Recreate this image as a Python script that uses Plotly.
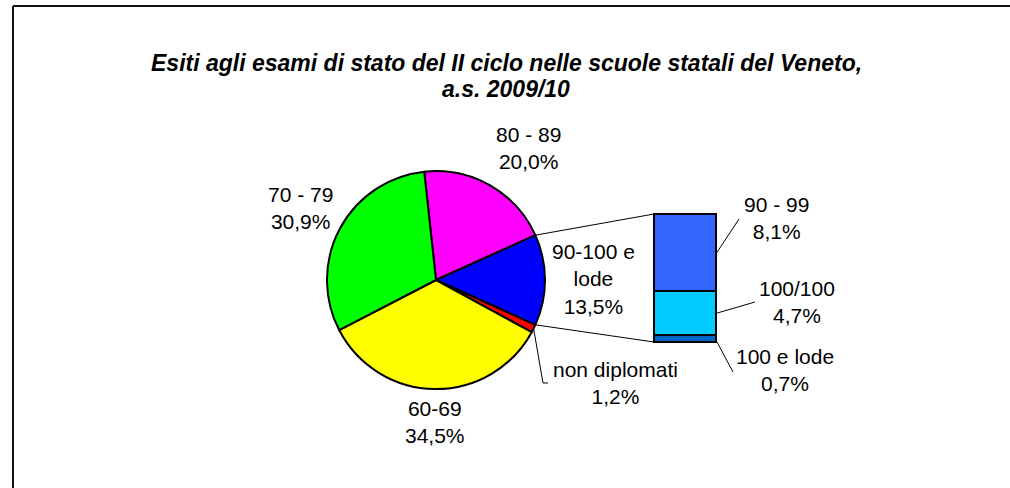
import plotly.graph_objects as go
import math

# ---- data ----
pie_labels = ["80 - 89", "90-100 e lode", "non diplomati", "60-69", "70 - 79"]
pie_values = [20.0, 13.5, 1.2, 34.5, 30.9]
pie_colors = ["#FF00FF", "#0000FF", "#FF0000", "#FFFF00", "#00FF00"]

bar_labels = ["100 e lode", "100/100", "90 - 99"]   # stacked bottom -> top
bar_values = [0.7, 4.7, 8.1]
bar_colors = ["#0066CC", "#00CCFF", "#3366FF"]

title_lines = ["Esiti agli esami di stato del II ciclo nelle scuole statali del Veneto,",
               "a.s. 2009/10"]

W, H = 1010, 488
FONT = "Liberation Sans, Arial, sans-serif"

def fmt(v):
    return f"{v:.1f}".replace(".", ",") + "%"

def px(x):
    return x / W

def py(y):
    return 1 - y / H

# ---- pie geometry (pixels) ----
cx, cy, r = 436, 280, 109
total = sum(pie_values)
other_idx = 1
# Excel pie-of-bar: the aggregated slice is centred at 3 o'clock
start = 90 - (sum(pie_values[:other_idx]) + pie_values[other_idx] / 2) / total * 360

def edge(angle_deg):
    a = math.radians(angle_deg)
    return cx + r * math.sin(a), cy - r * math.cos(a)

fig = go.Figure()
fig.add_trace(go.Pie(
    labels=pie_labels, values=pie_values, sort=False, direction="clockwise",
    rotation=start, textinfo="none", hoverinfo="label+percent",
    marker=dict(colors=pie_colors, line=dict(color="black", width=2)),
    domain=dict(x=[px(cx - r), px(cx + r)], y=[py(cy + r), py(cy - r)]),
    showlegend=False,
))

# ---- bar geometry ----
bx0, bx1 = 654, 716          # pixel edges of the bar (x = -0.5 .. 0.5)
by_top, by_bot = 214, 342    # pixel for y = sum .. 0
bar_total = sum(bar_values)
xr = [-0.6, 0.6]
yr = [-0.5, bar_total + 0.5]
ppx = (bx1 - bx0) / 1.0
ppy = (by_bot - by_top) / bar_total
dom_x = [px(bx0 + (xr[0] + 0.5) * ppx), px(bx0 + (xr[1] + 0.5) * ppx)]
dom_y = [py(by_bot - yr[0] * ppy), py(by_bot - yr[1] * ppy)]

for lab, val, col in zip(bar_labels, bar_values, bar_colors):
    fig.add_trace(go.Bar(
        x=[0], y=[val], width=1, name=lab, marker=dict(color=col, line=dict(color="black", width=2)),
        showlegend=False, hoverinfo="name+y", xaxis="x", yaxis="y",
    ))

def bar_px(yv):
    return by_bot - yv * ppy

shapes = []
line_style = dict(color="black", width=1)

# connectors pie -> bar
a_top = start + sum(pie_values[:other_idx]) / total * 360
a_bot = start + sum(pie_values[:other_idx + 1]) / total * 360
for ang, yv in [(a_top, bar_total), (a_bot, 0)]:
    ex, ey = edge(ang)
    shapes.append(dict(type="line", xref="paper", yref="paper",
                       x0=px(ex), y0=py(ey), x1=px(bx0), y1=py(bar_px(yv)), line=line_style))

# outer frame: only top and left edges are visible
frame = dict(color="#111111", width=2)
shapes.append(dict(type="line", xref="paper", yref="paper",
                   x0=px(13), y0=py(6), x1=1.0, y1=py(6), line=frame))
shapes.append(dict(type="line", xref="paper", yref="paper",
                   x0=px(13), y0=py(6), x1=px(13), y1=0.0, line=frame))

annotations = []
def add_label(text, x, y):
    annotations.append(dict(text=text, x=px(x), y=py(y), xref="paper", yref="paper",
                            showarrow=False, xanchor="center", yanchor="middle",
                            font=dict(family=FONT, size=21, color="black")))

# pie labels
pie_label_pos = [(528, 148), (593, 279), (615, 383), (435, 422), (300, 208)]
for lab, val, (lx, ly) in zip(pie_labels, pie_values, pie_label_pos):
    t = lab
    if lab == "90-100 e lode":
        t = "90-100 e<br>lode"
    add_label(t + "<br>" + fmt(val), lx, ly)

# non diplomati leader
ang_nd = start + (sum(pie_values[:2]) + pie_values[2] / 2) / total * 360
ex, ey = edge(ang_nd)
shapes.append(dict(type="path", xref="paper", yref="paper",
                   path=f"M {px(ex)},{py(ey)} L {px(543)},{py(383)} L {px(548)},{py(383)}",
                   line=line_style))

# bar labels + leaders
bar_label_pos = [(785, 370), (797, 302), (776, 218)]
leader_end = [(733, 372), (755, 302), (739, 219)]
cum = 0
for lab, val, (lx, ly), (lex, ley) in zip(bar_labels, bar_values, bar_label_pos, leader_end):
    mid = cum + val / 2
    if lab == "100 e lode":
        mid = cum
    cum += val
    add_label(lab + "<br>" + fmt(val), lx, ly)
    shapes.append(dict(type="line", xref="paper", yref="paper",
                       x0=px(bx1 + 1), y0=py(bar_px(mid)), x1=px(lex), y1=py(ley), line=line_style))

# title (one annotation per line to control spacing)
for i, t in enumerate(title_lines):
    annotations.append(dict(text="<b><i>" + t + "</i></b>",
                            x=px(506), y=py(63 + 26 * i), xref="paper", yref="paper", showarrow=False,
                            xanchor="center", yanchor="middle",
                            font=dict(family=FONT, size=23, color="black")))

fig.update_layout(
    width=W, height=H, autosize=False,
    margin=dict(l=0, r=0, t=0, b=0),
    paper_bgcolor="white", plot_bgcolor="rgba(0,0,0,0)",
    barmode="stack", bargap=0,
    xaxis=dict(domain=dom_x, range=xr, visible=False, fixedrange=True),
    yaxis=dict(domain=dom_y, range=yr, visible=False, fixedrange=True),
    shapes=shapes, annotations=annotations,
)

fig.write_html("out.html", config={"displayModeBar": False},
               post_script=("document.documentElement.style.overflow='hidden';"
                            "document.body.style.margin='0';document.body.style.overflow='hidden';"))
